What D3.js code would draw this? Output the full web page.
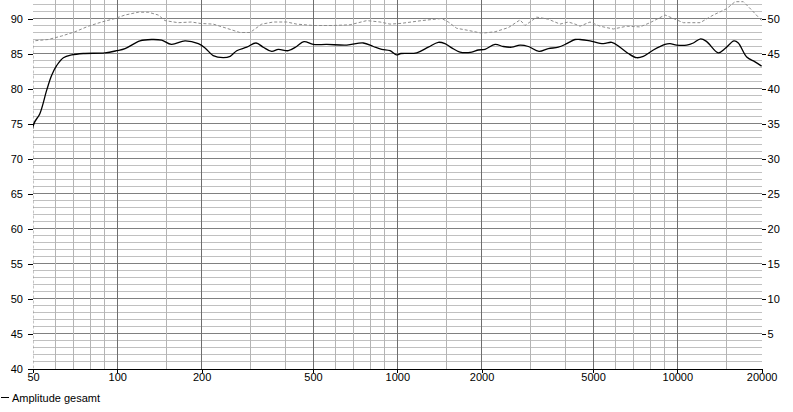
<!DOCTYPE html>
<html>
<head>
<meta charset="utf-8">
<script src="https://cdn.jsdelivr.net/npm/d3@7"></script>
<style>
    body { margin: 0; background: #fff; }
    svg text { font-family: "Liberation Sans", Arial, sans-serif; font-size: 11px; fill: #000; }
</style>
</head>
<body>
<div id="chart"></div>
<script>
// Amplitude gesamt (linke Achse, dB) - erster Punkt liegt unterhalb des Bereichs
const ampFreq = [50, 50, 52.9, 56, 58.3, 60.8, 64.2, 68.8, 75.6, 90.4, 99.5, 106.6, 120.5, 132.7, 144, 156, 174.5, 194.7,
    205.7, 220, 239, 253, 267, 290, 313, 332, 356, 376, 408, 437, 464, 501, 560, 660, 756, 821, 880, 942,
    992, 1031, 1173, 1290, 1401, 1480, 1564, 1675, 1844, 1947, 2057, 2234, 2391, 2562, 2744, 2938, 3207, 3462,
    3758, 4027, 4313, 4494, 4878, 5440, 5830, 6244, 6686, 7162, 7560, 8210, 9039, 9418, 9950, 10806, 11409,
    12120, 12733, 14015, 14805, 15941, 16514, 17697, 18950, 20000];
const ampDb = [30, 74.6, 76.4, 79.8, 81.9, 83.3, 84.4, 84.8, 85.0, 85.1, 85.4, 85.7, 86.8, 87.0, 86.9, 86.3, 86.8, 86.4,
    85.8, 84.7, 84.4, 84.6, 85.4, 85.9, 86.5, 85.9, 85.3, 85.6, 85.4, 86.0, 86.7, 86.3, 86.3, 86.2, 86.5, 86.0, 85.6, 85.4,
    84.8, 85.0, 85.1, 85.9, 86.6, 86.4, 85.8, 85.2, 85.2, 85.5, 85.6, 86.3, 86.0, 85.9, 86.2, 86.0, 85.3, 85.7,
    85.9, 86.4, 87.0, 87.0, 86.8, 86.4, 86.6, 85.9, 85.0, 84.4, 84.6, 85.5, 86.3, 86.4, 86.2, 86.2, 86.5,
    87.1, 86.7, 85.1, 85.7, 86.8, 86.5, 84.5, 83.8, 83.2];

// gestrichelte Kurve (rechte Achse)
const dashFreq = [50, 50, 56.7, 63.3, 70.6, 78.8, 88, 98.1, 106.6, 118.9, 129, 140, 148, 165, 184, 197.5, 220, 246, 274,
    298, 328, 361, 403, 437, 501, 591, 678, 778, 868, 942, 1031, 1222, 1441, 1521, 1630, 1793, 2002, 2234, 2492,
    2744, 2859, 3147, 3462, 3811, 4081, 4313, 4494, 4878, 5297, 5910, 6596, 7360, 7990, 9039, 9680, 10510,
    12060, 13450, 15010, 16080, 17210, 18440, 20000];
const dashVal = [-10, 46.8, 47.0, 47.5, 48.1, 48.9, 49.5, 50.0, 50.5, 50.9, 50.9, 50.5, 49.7, 49.4, 49.5, 49.3, 49.2, 48.6, 48.0,
    48.0, 49.2, 49.5, 49.5, 49.2, 49.0, 49.0, 49.1, 49.7, 49.5, 49.2, 49.3, 49.7, 50.0, 49.5, 48.6, 48.3, 47.9, 48.1, 48.7,
    49.8, 49.0, 50.2, 49.9, 49.2, 49.5, 49.2, 48.9, 49.5, 48.9, 48.5, 48.9, 48.8, 49.4, 50.5, 50.0, 49.4,
    49.4, 50.5, 51.4, 52.4, 52.4, 51.2, 49.7];

const majorFreqs = [50, 100, 200, 500, 1000, 2000, 5000, 10000, 20000];
const minorFreqs = [60, 70, 80, 90, 150, 300, 400, 600, 700, 800, 900, 1500, 3000, 4000,
    6000, 7000, 8000, 9000, 15000];
const leftTicks = [40, 45, 50, 55, 60, 65, 70, 75, 80, 85, 90];
const rightTicks = [5, 10, 15, 20, 25, 30, 35, 40, 45, 50];
const legendLabel = "Amplitude gesamt";

/**
 * Frequenzgang-Diagramm mit log. Frequenzachse und zwei Pegelachsen.
 */
class ResponseChart {
    constructor (options) {
        this.width = options.width;
        this.height = options.height;
        this.margins = options.margins;
        this.pxPerDb = options.pxPerDb;
        this.svg = d3.select(options.container).append("svg")
            .attr("width", this.width)
            .attr("height", this.height);
        this._initScales();
    }

    _initScales () {
        var m = this.margins,
            bottom = this.height - m.bottom,
            span = (bottom - m.top) / this.pxPerDb;

        this.x = d3.scaleLog().domain([50, 20000]).range([m.left, this.width - m.right]);
        this.yLeft = d3.scaleLinear().domain([40, 40 + span]).range([bottom, m.top]);
        this.yRight = d3.scaleLinear().domain([0, span]).range([bottom, m.top]);
    }

    /**
     * Gitterlinien: jedes dB hell, alle 5 dB dunkler; senkrecht je Frequenz.
     */
    addGrid () {
        var x = this.x, y = this.yLeft,
            [y0, y1] = y.range(),
            [x0, x1] = x.range(),
            dbLines = d3.range(41, Math.floor(y.domain()[1]) + 1);

        var grid = this.svg.append("g")
            .attr("shape-rendering", "crispEdges");

        grid.selectAll(".h").data(dbLines).enter()
            .append("line")
            .attr("x1", x0).attr("x2", x1)
            .attr("y1", d => y(d)).attr("y2", d => y(d))
            .attr("stroke", d => d % 5 === 0 ? "#808080" : "#c0c0c0");

        grid.selectAll(".vmin").data(minorFreqs).enter()
            .append("line")
            .attr("x1", d => x(d)).attr("x2", d => x(d))
            .attr("y1", y0).attr("y2", y1)
            .attr("stroke", "#b4b4b4");

        grid.selectAll(".vmaj").data(majorFreqs.slice(1, -1)).enter()
            .append("line")
            .attr("x1", d => x(d)).attr("x2", d => x(d))
            .attr("y1", y0).attr("y2", y1)
            .attr("stroke", "#6e6e6e");
    }

    addCurves () {
        var m = this.margins;
        this.svg.append("clipPath").attr("id", "plot-clip")
            .append("rect")
            .attr("x", m.left).attr("y", 0)
            .attr("width", this.width - m.left - m.right + 1)
            .attr("height", this.height - m.bottom);

        var dashLine = d3.line()
            .x(d => this.x(d[0]))
            .y(d => this.yRight(d[1]));
        var ampLine = d3.line()
            .x(d => this.x(d[0]))
            .y(d => this.yLeft(d[1]))
            .curve(d3.curveCatmullRom.alpha(0.5));

        var curves = this.svg.append("g").attr("clip-path", "url(#plot-clip)");

        curves.append("path")
            .datum(d3.zip(dashFreq, dashVal))
            .attr("d", dashLine)
            .attr("fill", "none")
            .attr("stroke", "#8c8c8c")
            .attr("stroke-width", 1)
            .attr("stroke-dasharray", "3,2");

        curves.append("path")
            .datum(d3.zip(ampFreq, ampDb))
            .attr("d", ampLine)
            .attr("fill", "none")
            .attr("stroke", "#000")
            .attr("stroke-width", 1.3);
    }

    addAxes () {
        var m = this.margins;

        var bottomAxis = this.svg.append("g")
            .attr("transform", `translate(0, ${this.yLeft.range()[0]})`)
            .attr("shape-rendering", "crispEdges")
            .call(d3.axisBottom(this.x).tickValues(majorFreqs).tickFormat(d3.format("d"))
                .tickSize(4).tickSizeOuter(0).tickPadding(1));

        var leftAxis = this.svg.append("g")
            .attr("transform", `translate(${m.left}, 0)`)
            .attr("shape-rendering", "crispEdges")
            .call(d3.axisLeft(this.yLeft).tickValues(leftTicks).tickSize(5).tickPadding(5));

        var rightAxis = this.svg.append("g")
            .attr("transform", `translate(${this.width - m.right}, 0)`)
            .attr("shape-rendering", "crispEdges")
            .call(d3.axisRight(this.yRight).tickValues(rightTicks).tickSize(4).tickPadding(2));

        leftAxis.select(".domain").remove();
        rightAxis.select(".domain").remove();
        [bottomAxis, leftAxis, rightAxis].forEach(a => {
            a.attr("font-size", null).attr("font-family", null);
            a.selectAll(".tick line").attr("stroke", "#000");
        });
        bottomAxis.select(".domain").attr("stroke", "#000");
    }

    addLegend () {
        var g = this.svg.append("g");
        g.append("line")
            .attr("x1", 1).attr("x2", 9)
            .attr("y1", 397.5).attr("y2", 397.5)
            .attr("stroke", "#000")
            .attr("shape-rendering", "crispEdges");
        g.append("text")
            .attr("x", 12).attr("y", 401.5)
            .text(legendLabel);
    }
}

var chart = new ResponseChart({
    container: "#chart",
    width: 793,
    height: 412,
    margins: {top: 0, right: 31.4, bottom: 43.5, left: 33},
    pxPerDb: 7
});
chart.addGrid();
chart.addCurves();
chart.addAxes();
chart.addLegend();
</script>
</body>
</html>
